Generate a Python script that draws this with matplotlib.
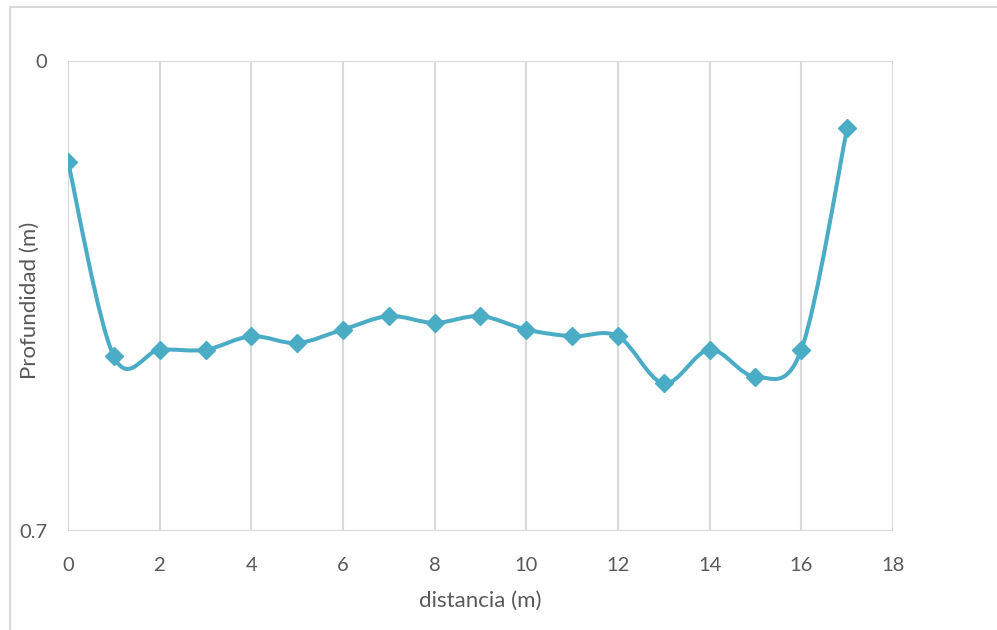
import numpy as np
import matplotlib
matplotlib.use("Agg")
import matplotlib.pyplot as plt
from matplotlib.patches import Rectangle
from matplotlib.path import Path
from matplotlib.patches import PathPatch

# Cross-section survey: depth at each station along the transect
distancia = [0, 1, 2, 3, 4, 5, 6, 7, 8, 9, 10, 11, 12, 13, 14, 15, 16, 17]
profundidad = [0.15, 0.44, 0.43, 0.43, 0.41, 0.42, 0.40, 0.38, 0.39, 0.38,
               0.40, 0.41, 0.41, 0.48, 0.43, 0.47, 0.43, 0.10]

x_ticks = [0, 2, 4, 6, 8, 10, 12, 14, 16, 18]
y_ticks = [0, 0.7]
y_tick_labels = ["0", "0.7"]

LINE = "#4BACC6"
GRID = "#D9D9D9"
TEXT = "#595959"
FONT = ["Lato", "DejaVu Sans"]

W, H = 997, 630
fig = plt.figure(figsize=(W / 100, H / 100), dpi=100)
ax = fig.add_axes([68 / W, 1 - 531 / H, (893 - 68) / W, (531 - 61) / H])

# Chart-area border (open to the right and bottom)
fig.add_artist(Rectangle((9.5 / W, -0.1), 1.2, 1 - 7.5 / H + 0.1,
                         transform=fig.transFigure, fill=False,
                         edgecolor=GRID, linewidth=1.5))


def smooth_path(xs, ys):
    """Bezier curve through the points with Catmull-Rom style tangents."""
    pts = np.column_stack([xs, ys]).astype(float)
    n = len(pts)
    verts = [pts[0]]
    codes = [Path.MOVETO]
    for i in range(n - 1):
        p0 = pts[i - 1] if i > 0 else pts[i]
        p1 = pts[i]
        p2 = pts[i + 1]
        p3 = pts[i + 2] if i + 2 < n else pts[i + 1]
        c1 = p1 + (p2 - p0) / 6.0
        c2 = p2 - (p3 - p1) / 6.0
        verts += [c1, c2, p2]
        codes += [Path.CURVE4] * 3
    return Path(verts, codes)


ax.add_patch(PathPatch(smooth_path(distancia, profundidad), fill=False,
                       edgecolor=LINE, linewidth=2.9, capstyle="round",
                       joinstyle="round", zorder=3))
ax.plot(distancia, profundidad, linestyle="none", marker="D", markersize=9,
        color=LINE, zorder=4)

ax.set_xlim(0, 18)
ax.set_ylim(0.7, 0)
ax.set_xticks(x_ticks)
ax.set_yticks(y_ticks)
ax.set_yticklabels(y_tick_labels)
ax.grid(True, color=GRID, linewidth=1.5)
ax.set_axisbelow(True)
for s in ax.spines.values():
    s.set_visible(False)
ax.tick_params(length=0, labelsize=14.5, labelcolor=TEXT)
ax.tick_params(axis="x", pad=19)
ax.tick_params(axis="y", pad=15)
for lab in ax.get_xticklabels() + ax.get_yticklabels():
    lab.set_family(FONT)

ax.set_xlabel("distancia (m)", fontsize=16, color=TEXT, family=FONT)
ax.set_ylabel("Profundidad (m)", fontsize=16, color=TEXT, family=FONT)
ax.xaxis.set_label_coords((480 - 68) / 825, -(601 - 531) / 470)
ax.yaxis.set_label_coords((30 - 68) / 825, (531 - 300) / 470)
ax.xaxis.label.set_verticalalignment("center")
ax.yaxis.label.set_verticalalignment("center")

fig.savefig("out.png", dpi=100, facecolor="white")
